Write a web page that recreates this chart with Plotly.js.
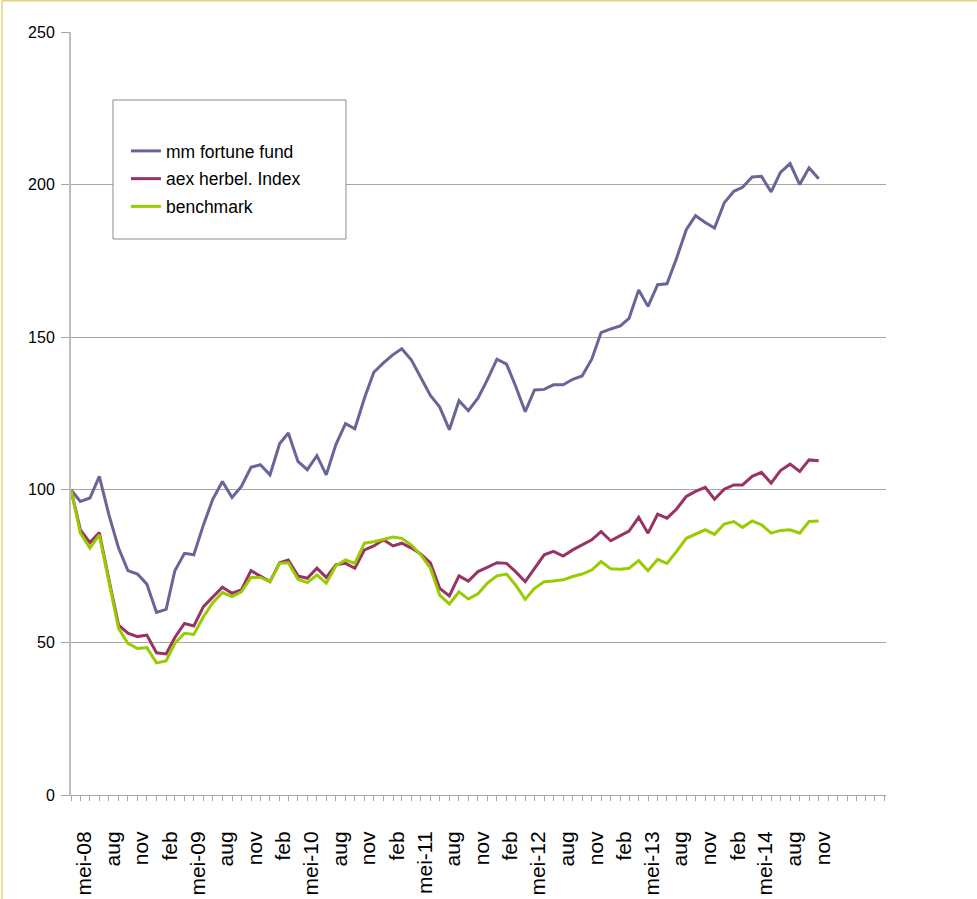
<!DOCTYPE html>
<html>
<head>
<meta charset="utf-8">
<script src="https://cdn.plot.ly/plotly-3.0.1.min.js"></script>
<style>html,body{margin:0;padding:0;background:#fff;}#chart{width:977px;height:899px;}</style>
</head>
<body>
<div id="chart"></div>
<script>
// months of the data (apr-08 .. nov-14)
const months = [
 '2008-04','2008-05','2008-06','2008-07','2008-08','2008-09','2008-10','2008-11','2008-12',
 '2009-01','2009-02','2009-03','2009-04','2009-05','2009-06','2009-07','2009-08','2009-09','2009-10','2009-11','2009-12',
 '2010-01','2010-02','2010-03','2010-04','2010-05','2010-06','2010-07','2010-08','2010-09','2010-10','2010-11','2010-12',
 '2011-01','2011-02','2011-03','2011-04','2011-05','2011-06','2011-07','2011-08','2011-09','2011-10','2011-11','2011-12',
 '2012-01','2012-02','2012-03','2012-04','2012-05','2012-06','2012-07','2012-08','2012-09','2012-10','2012-11','2012-12',
 '2013-01','2013-02','2013-03','2013-04','2013-05','2013-06','2013-07','2013-08','2013-09','2013-10','2013-11','2013-12',
 '2014-01','2014-02','2014-03','2014-04','2014-05','2014-06','2014-07','2014-08','2014-09','2014-10','2014-11'
];
// empty months on the axis after the data
const extraMonths = ['2014-12','2015-01','2015-02','2015-03','2015-04','2015-05','2015-06'];

const mmFortuneFund = [
 100,96.2,97.3,104.4,91.8,80.9,73.5,72.4,69.1,59.8,
 60.8,73.5,79.2,78.7,88.5,96.9,102.7,97.5,101.1,107.4,
 108.2,104.9,115.1,118.6,109.3,106.6,111.2,104.9,114.8,121.7,
 120.0,130.1,138.5,141.6,144.3,146.2,142.5,136.7,130.9,127.1,
 119.7,129.2,125.9,130.0,136.0,142.8,141.2,134.0,125.6,132.7,
 132.9,134.4,134.4,136.2,137.3,142.8,151.5,152.7,153.7,156.2,
 165.5,160.1,167.2,167.5,175.9,185.2,189.8,187.6,185.8,194.0,
 197.8,199.1,202.5,202.7,197.6,204.0,206.9,200.0,205.5,201.9
];
const aexHerbelIndex = [
 100,86.9,82.7,86.0,70.5,55.7,53.0,51.9,52.4,46.6,
 46.2,51.6,56.2,55.4,61.7,65.0,68.1,66.1,67.2,73.5,
 71.8,69.9,76.1,77.0,71.8,71.0,74.3,71.3,75.4,75.9,
 74.3,80.3,81.6,83.6,81.6,82.5,80.9,79.0,76.1,67.7,
 65.2,71.8,70.1,73.2,74.6,76.1,75.9,73.2,69.9,74.3,
 78.7,79.8,78.3,80.3,81.9,83.6,86.3,83.3,85.0,86.5,
 91.0,85.8,92.0,90.7,93.7,97.8,99.5,100.8,96.9,100.2,
 101.6,101.6,104.4,105.7,102.2,106.3,108.4,106.0,109.8,109.5
];
const benchmark = [
 100,85.8,80.9,85.2,69.9,54.6,49.7,48.0,48.3,43.3,
 43.9,49.7,53.0,52.6,58.4,63.0,66.3,65.0,66.6,71.3,
 71.3,69.9,75.9,76.1,70.7,69.6,72.1,69.4,75.1,77.0,
 75.9,82.5,83.0,83.8,84.5,84.1,81.9,78.7,74.3,65.5,
 62.6,66.6,64.2,65.9,69.4,71.8,72.4,68.8,64.1,67.7,
 69.9,70.1,70.5,71.6,72.4,73.7,76.5,74.1,74.0,74.3,
 76.8,73.5,77.2,75.9,79.8,84.1,85.6,86.9,85.4,88.8,
 89.6,87.7,89.8,88.5,85.8,86.7,86.9,85.8,89.6,89.8
];
const seriesNames = ['mm fortune fund','aex herbel. Index','benchmark'];
const tickLabels = ['mei-08','aug','nov','feb','mei-09','aug','nov','feb','mei-10','aug','nov','feb',
 'mei-11','aug','nov','feb','mei-12','aug','nov','feb','mei-13','aug','nov','feb','mei-14','aug','nov'];

const allMonths = months.concat(extraMonths);
const tickText = allMonths.map((m, i) => (i % 3 === 1 && (i - 1) / 3 < tickLabels.length) ? tickLabels[(i - 1) / 3] : '');

const colors = ['#666699','#993366','#99cc00'];
const data = [mmFortuneFund, aexHerbelIndex, benchmark].map((ys, k) => ({
  type: 'scatter', mode: 'lines', x: months, y: ys, name: seriesNames[k],
  legendgroup: 'g' + k,
  line: {color: colors[k], width: 3}
}));

const font = {family: 'Liberation Sans, Arial, sans-serif', color: '#000'};
const layout = {
  width: 977, height: 899,
  margin: {l: 71, r: 91, t: 32, b: 104},
  paper_bgcolor: '#fff', plot_bgcolor: '#fff',
  font: Object.assign({size: 16}, font),
  showlegend: true,
  legend: {
    x: 0.0674, y: 0.8676, xanchor: 'left', yanchor: 'top',
    bgcolor: 'rgba(0,0,0,0)', borderwidth: 0,
    font: Object.assign({size: 17.5}, font),
    tracegroupgap: 2, traceorder: 'grouped'
  },
  xaxis: {
    type: 'date',
    range: ['2008-04-01', '2015-06-05 12:00'],
    tickmode: 'array', tickvals: allMonths, ticktext: tickText,
    tickangle: -90, ticks: 'outside', ticklen: 5, tickcolor: '#a6a6a6', tickwidth: 1,
    tickfont: Object.assign({size: 21}, font),
    ticklabelstandoff: 22, ticklabelshift: 4,
    showgrid: false, zeroline: false,
    showline: true, linecolor: '#a6a6a6', linewidth: 1
  },
  yaxis: {
    range: [0, 250], tickmode: 'linear', tick0: 0, dtick: 50,
    ticks: 'outside', ticklen: 8, tickcolor: '#a6a6a6',
    tickfont: Object.assign({size: 16}, font),
    ticklabelstandoff: 3,
    showgrid: true, gridcolor: '#a6a6a6', gridwidth: 1,
    zeroline: false, showline: true, linecolor: '#bdbdbd', linewidth: 2
  },
  shapes: [
    {type: 'rect', xref: 'paper', yref: 'paper', x0: 0.0515, x1: 0.3374, y0: 0.7287, y1: 0.9109,
     fillcolor: '#fff', line: {color: '#8c8c8c', width: 1}, layer: 'above'},
    {type: 'line', xref: 'paper', yref: 'paper', x0: -0.0847, x1: -0.0847, y0: -0.14, y1: 1.041,
     line: {color: '#e6d27a', width: 1.5}},
    {type: 'line', xref: 'paper', yref: 'paper', x0: -0.0847, x1: 1.12, y0: 1.041, y1: 1.041,
     line: {color: '#e6d27a', width: 1.5}}
  ]
};
Plotly.newPlot('chart', data, layout, {displayModeBar: false, staticPlot: true});
</script>
</body>
</html>
